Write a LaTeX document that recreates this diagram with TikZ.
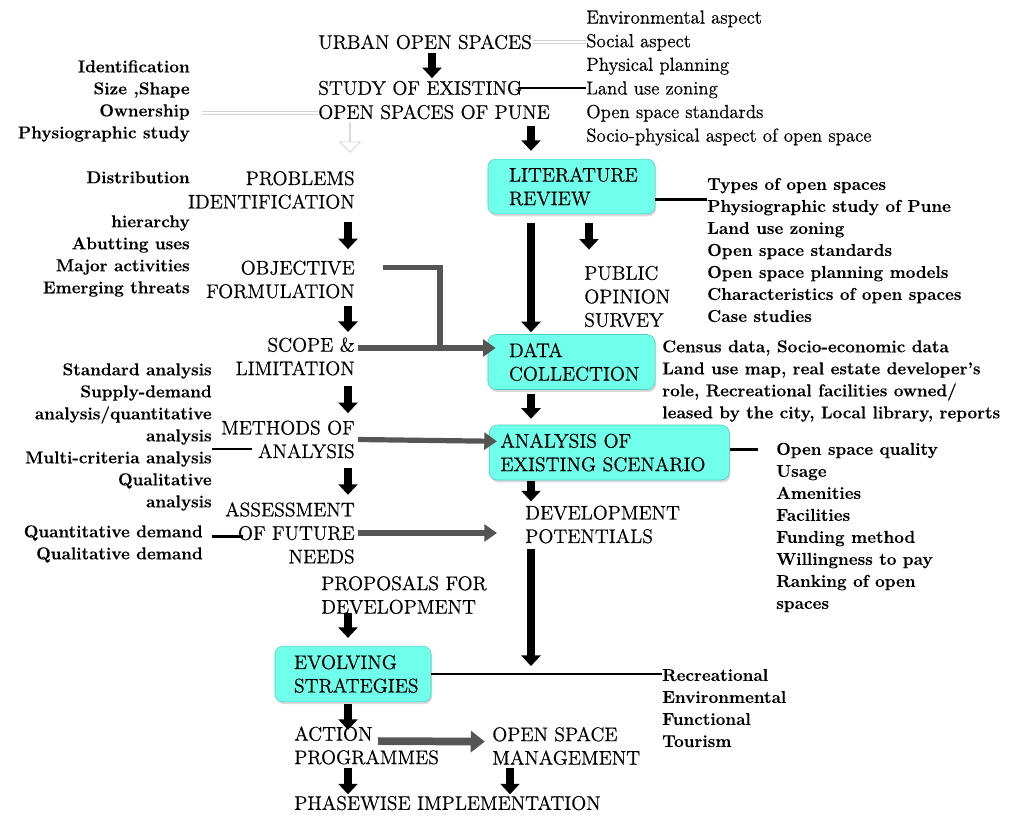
\documentclass[tikz,border=0pt]{standalone}
\usepackage{fontspec}
\usepackage{tikz}
\usetikzlibrary{arrows.meta,positioning,shapes.arrows,shadows}

\newfontfamily\heavyroman{Latin Modern Roman}[FakeBold=0.6]
\newfontfamily\listroman{Latin Modern Roman}[BoldFeatures={FakeBold=0.3}]

\definecolor{boxcyan}{RGB}{112,255,234}
\definecolor{boxedge}{RGB}{80,205,192}
\definecolor{arrowgray}{RGB}{85,85,85}

\newcommand{\stagefont}{\heavyroman\fontsize{14}{16.7}\selectfont}
\newcommand{\aspectfont}{\heavyroman\fontsize{13.4}{16.8}\selectfont}
\newcommand{\boldlistfont}{\listroman\fontsize{12.2}{15.65}\selectfont\bfseries}

\begin{document}
\begin{tikzpicture}[
    x=0.025cm, y=-0.025cm,
    stagetext/.style={font=\stagefont, inner sep=0pt},
    plainlist/.style={font=\aspectfont, inner sep=0pt, align=left},
    boldlist/.style={font=\boldlistfont, inner sep=0pt},
    cyanbox/.style={draw=boxedge, fill=boxcyan, rounded corners=0.2cm,
                font=\stagefont, align=left, inner ysep=0pt,
                drop shadow={shadow xshift=0.03cm, shadow yshift=-0.06cm, opacity=0.3}},
    blkarrow/.style={-{Triangle[width=13.5pt,length=7.5pt]}, line width=5pt, black},
    grayarrow/.style={-{Triangle[width=12pt,length=9pt]}, line width=3.7pt, arrowgray},
    grayline/.style={line width=3.7pt, arrowgray},
    widegray/.style={-{Triangle[width=15pt,length=10pt]}, line width=5.5pt, arrowgray},
    link/.style={line width=2pt, black},
    faint/.style={draw=gray!35, line width=0.4pt, double=white, double distance=1.6pt},
    hollowarrow/.style={single arrow, draw=gray!45, fill=white, inner sep=0pt,
                minimum height=0.725cm, minimum width=0.525cm,
                single arrow head extend=0.125cm, shape border rotate=270}
]
\useasboundingbox (0,0) rectangle (1011,816);

% ---------- columns for the vertical arrows ----------
\coordinate (topx) at (432,0);
\coordinate (leftx) at (348,0);
\coordinate (colx) at (531,0);
\coordinate (pubx) at (589,0);
\coordinate (mgmtx) at (510,0);

% ---------- top ----------
\node[stagetext, anchor=west] (urban) at (318,42) {URBAN OPEN SPACES};
\node[stagetext, anchor=west] (study) at (318,88) {STUDY OF EXISTING};
\node[stagetext, anchor=west] (pune) at (318,112) {OPEN SPACES OF PUNE};
\node[plainlist, anchor=west] (aspects) at (586,78)
   {Environmental aspect\\Social aspect\\Physical planning\\Land use zoning\\Open space standards\\Socio-physical aspect of open space};
\node[boldlist, anchor=east, align=right] (physio) at (190,101)
   {Identification\\Size ,Shape\\Ownership\\Physiographic study};
\node[hollowarrow] (hollow) at (350,137.5) {};

% ---------- left column ----------
\node[stagetext, anchor=east, align=right] (problems) at (355,190) {PROBLEMS\\IDENTIFICATION};
\node[stagetext, anchor=east, align=right] (objective) at (355,279.5) {OBJECTIVE\\FORMULATION};
\node[stagetext, anchor=east, align=right] (scope) at (355,356.5) {SCOPE \&\\LIMITATION};
\node[stagetext, anchor=east, align=right] (methods) at (355,439.5) {METHODS OF\\ANALYSIS};
\node[stagetext, anchor=east, align=right] (assess) at (355,533) {ASSESSMENT\\OF FUTURE\\NEEDS};
\node[stagetext, anchor=west, align=left] (proposals) at (321,595) {PROPOSALS FOR\\DEVELOPMENT};
\node[cyanbox, text width=2.95cm, inner xsep=0.475cm, minimum height=1.39cm] (evolve) at (353,674) {EVOLVING\\STRATEGIES};
\node[stagetext, anchor=west, align=left] (action) at (294,745.5) {ACTION\\PROGRAMMES};
\node[stagetext, anchor=west, align=left] (management) at (492,746) {OPEN SPACE\\MANAGEMENT};
\node[stagetext, anchor=west] (phase) at (294,803) {PHASEWISE IMPLEMENTATION};

\node[boldlist, anchor=east, align=right] (threats) at (190,234)
   {Distribution\\\mbox{}\\hierarchy\\Abutting uses\\Major activities\\Emerging threats};
\node[boldlist, anchor=east, align=right] (analyses) at (212,437)
   {Standard analysis\\Supply-demand\\analysis/quantitative\\analysis\\Multi-criteria analysis\\Qualitative\\analysis};
\node[boldlist, anchor=east, align=right] (demand) at (203,544)
   {Quantitative demand\\Qualitative demand};

% ---------- right column ----------
\node[cyanbox, text width=3.125cm, inner xsep=0.525cm, minimum height=1.37cm] (litrev) at (571.5,186.5) {LITERATURE\\REVIEW};
\node[stagetext, anchor=west, align=left] (public) at (584,296.5) {PUBLIC\\OPINION\\SURVEY};
\node[cyanbox, text width=3.125cm, inner xsep=0.525cm, minimum height=1.375cm] (datacol) at (571.5,362) {DATA\\COLLECTION};
\node[cyanbox, text width=5.44cm, inner xsep=0.28cm, minimum height=1.375cm] (analysis) at (609.25,452.5) {ANALYSIS OF\\EXISTING SCENARIO};
\node[stagetext, anchor=west, align=left] (devpot) at (525,524.5) {DEVELOPMENT\\POTENTIALS};

\node[boldlist, anchor=west, align=left] (littopics) at (707,250)
   {Types of open spaces\\Physiographic study of Pune\\Land use zoning\\Open space standards\\Open space planning models\\Characteristics of open spaces\\Case studies};
\node[boldlist, anchor=west, align=left] (sources) at (662,381)
   {Census data, Socio-economic data\\Land use map, real estate developer’s\\role, Recreational facilities owned/\\leased by the city, Local library, reports};
\node[boldlist, anchor=west, align=left] (quality) at (776,527.5)
   {Open space quality\\Usage\\Amenities\\Facilities\\Funding method\\Willingness to pay\\Ranking of open\\spaces};
\node[boldlist, anchor=west, align=left] (strategies) at (662,708)
   {Recreational\\Environmental\\Functional\\Tourism};

% ---------- plain links ----------
\draw[faint] ([xshift=0.03cm]urban.east) -- (urban.east -| aspects.west);
\draw[faint] ([xshift=0.3cm, yshift=-0.3cm]physio.east) -- ([yshift=-0.3cm]physio.east -| pune.west);
\draw[link] ([xshift=-0.1cm]study.east) -- (study.east -| aspects.west);
\draw[link] ([yshift=-0.32cm]litrev.east) -- ([yshift=-0.32cm]litrev.east -| littopics.west);
\draw[link] ([yshift=0.07cm]analysis.east) -- ([xshift=-0.45cm, yshift=0.07cm]analysis.east -| quality.west);
\draw[link] ([yshift=-0.3cm]analyses.east) -- ([xshift=1cm, yshift=-0.3cm]analyses.east);
\draw[link] ([xshift=0.22cm, yshift=0.18cm]demand.east) -- ([xshift=1cm, yshift=0.18cm]demand.east);
\draw[link] (evolve.east) -- (evolve.east -| strategies.west);

% ---------- black arrows ----------
\draw[blkarrow, shorten <=0.08cm, shorten >=0.06cm] (topx |- urban.south) -- (topx |- study.north);
\draw[blkarrow, shorten <=0.16cm, shorten >=0.2cm] (colx |- pune.south) -- (colx |- litrev.north);
\draw[blkarrow, shorten <=0.23cm, shorten >=0.05cm] (colx |- litrev.south) -- (colx |- datacol.north);
\draw[blkarrow, shorten <=0.23cm, shorten >=0.4cm] (pubx |- litrev.south) -- (pubx |- public.north);
\draw[blkarrow, shorten <=0.1cm, shorten >=0.15cm] (colx |- datacol.south) -- (colx |- analysis.north);
\draw[blkarrow, shorten <=0.02cm, shorten >=0.1cm] (colx |- analysis.south) -- (colx |- devpot.north);
\draw[blkarrow, shorten <=0.13cm, shorten >=0.2cm] (colx |- devpot.south) -- (colx |- evolve.east);

\draw[blkarrow, shorten <=0.33cm, shorten >=0.28cm] (leftx |- problems.south) -- (leftx |- objective.north);
\draw[blkarrow, shorten <=0.18cm, shorten >=0.13cm] (leftx |- objective.south) -- (leftx |- scope.north);
\draw[blkarrow, shorten <=0.26cm, shorten >=0.18cm] (leftx |- scope.south) -- (leftx |- methods.north);
\draw[blkarrow, shorten <=0.23cm, shorten >=0.18cm] (leftx |- methods.south) -- (leftx |- assess.north);
\draw[blkarrow, shorten <=-0.04cm, shorten >=0.2cm] (leftx |- proposals.south) -- (leftx |- evolve.north);
\draw[blkarrow, shorten <=0.05cm, shorten >=-0.09cm] (leftx |- evolve.south) -- (leftx |- action.north);
\draw[blkarrow, shorten <=0.08cm, shorten >=0.03cm] (leftx |- action.south) -- (leftx |- phase.north);
\draw[blkarrow, shorten <=0.08cm, shorten >=0.03cm] (mgmtx |- management.south) -- (mgmtx |- phase.north);

% ---------- gray arrows ----------
\coordinate (joinpt) at (440,348);
\draw[grayline] ([xshift=0.7cm, yshift=0.31cm]objective.east) -| (joinpt);
\draw[grayarrow, shorten >=-0.2cm] ([xshift=0.08cm]scope.east |- joinpt) -- (datacol.west |- joinpt);
\draw[grayarrow] ([xshift=0.08cm]methods.east) -- ([xshift=0.2cm, yshift=0.28cm]analysis.west);
\draw[grayarrow] ([xshift=0.08cm]assess.east) -- ([xshift=-0.7cm]assess.east -| devpot.west);
\draw[widegray] ([xshift=2.1cm, yshift=0.11cm]action.west) -- ([xshift=-0.18cm, yshift=0.11cm]management.west);

\end{tikzpicture}
\end{document}
